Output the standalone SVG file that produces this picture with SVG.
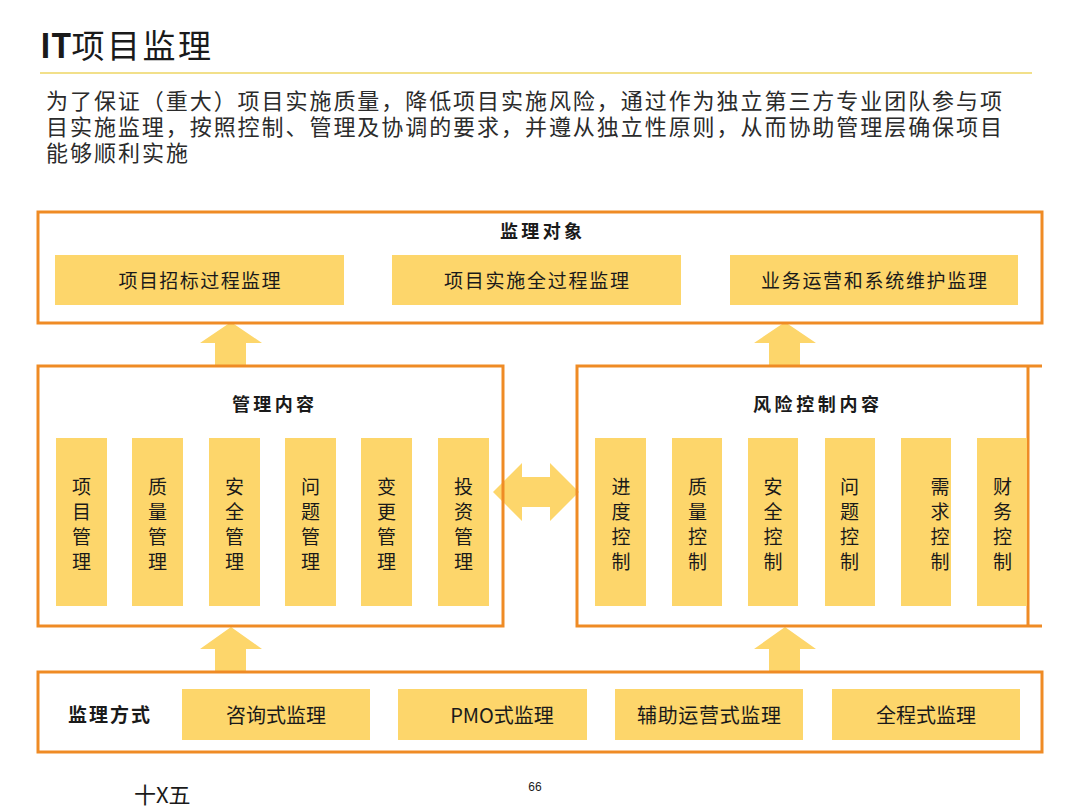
<svg xmlns="http://www.w3.org/2000/svg" width="1080" height="810" viewBox="0 0 1080 810">
<style>
.frame{fill:none;stroke:#EF8B25;stroke-width:3}
.bar{fill:#FDD66B}
.arrow{fill:#FDD66B}
text{font-family:"Noto Sans CJK SC","Noto Sans",sans-serif;fill:#1a1a1a}
.lbl{font-size:19px;text-anchor:middle}
.lbl2{font-size:20px;text-anchor:middle}
.vt{font-size:19px;text-anchor:middle;writing-mode:vertical-rl;letter-spacing:6px}
.head{font-size:18px;font-weight:bold;text-anchor:middle}
.para{font-size:22px;fill:#2b2b2b;letter-spacing:2px}
</style>
<rect width="1080" height="810" fill="#ffffff"/>

<g id="title">
<text x="40" y="58" style="font-size:33px"><tspan style="font-weight:bold">IT</tspan><tspan style="letter-spacing:2.5px">项目监理</tspan></text>
<line x1="40" y1="73" x2="1032" y2="73" stroke="#F2E08A" stroke-width="2"/>
</g>

<g id="intro">
<text class="para"><tspan x="46" y="109" textLength="958" lengthAdjust="spacing">为了保证（重大）项目实施质量，降低项目实施风险，通过作为独立第三方专业团队参与项</tspan><tspan x="46" y="135" textLength="958" lengthAdjust="spacing">目实施监理，按照控制、管理及协调的要求，并遵从独立性原则，从而协助管理层确保项目</tspan><tspan x="46" y="161">能够顺利实施</tspan></text>
</g>

<g id="connectors">
<polygon class="arrow" points="231,322 262,343 246,343 246,366 215,366 215,343 200,343"/>
<polygon class="arrow" points="785,322 816,343 800,343 800,366 769,366 769,343 754,343"/>
<polygon class="arrow" points="231,627 262,649 246,649 246,672 215,672 215,649 200,649"/>
<polygon class="arrow" points="785,627 816,649 800,649 800,672 769,672 769,649 754,649"/>
<polygon class="arrow" points="493,492 522,463 522,477 550,477 550,463 579,492 550,521 550,507 522,507 522,521"/>
</g>

<g id="supervision-objects">
<rect class="frame" x="38" y="212" width="1004" height="111"/>
<text class="head" x="541" y="238" textLength="82" lengthAdjust="spacing">监理对象</text>
<g id="obj-bidding">
<rect class="bar" x="55" y="255" width="289" height="50"/>
<text class="lbl" x="199.5" y="288" textLength="162" lengthAdjust="spacing">项目招标过程监理</text>
</g>
<g id="obj-implementation">
<rect class="bar" x="392" y="255" width="289" height="50"/>
<text class="lbl" x="536.5" y="288" textLength="185" lengthAdjust="spacing">项目实施全过程监理</text>
</g>
<g id="obj-operation">
<rect class="bar" x="730" y="255" width="288" height="50"/>
<text class="lbl" x="874" y="288" textLength="226" lengthAdjust="spacing">业务运营和系统维护监理</text>
</g>
</g>

<g id="management-content">
<rect class="frame" x="38" y="366" width="465" height="260"/>
<text class="head" x="273" y="411" textLength="82" lengthAdjust="spacing">管理内容</text>
<g id="m1"><rect class="bar" x="56" y="438" width="51" height="168"/><text class="vt" x="81.5" y="527">项目管理</text></g>
<g id="m2"><rect class="bar" x="132" y="438" width="51" height="168"/><text class="vt" x="157.5" y="527">质量管理</text></g>
<g id="m3"><rect class="bar" x="209" y="438" width="51" height="168"/><text class="vt" x="234.5" y="527">安全管理</text></g>
<g id="m4"><rect class="bar" x="285" y="438" width="51" height="168"/><text class="vt" x="310.5" y="527">问题管理</text></g>
<g id="m5"><rect class="bar" x="361" y="438" width="51" height="168"/><text class="vt" x="386.5" y="527">变更管理</text></g>
<g id="m6"><rect class="bar" x="438" y="438" width="51" height="168"/><text class="vt" x="463.5" y="527">投资管理</text></g>
</g>

<g id="risk-control">
<path class="frame" d="M1042,366 H577 V626 H1042 M1028,366 V626"/>
<text class="head" x="816" y="411" textLength="126" lengthAdjust="spacing">风险控制内容</text>
<g id="r1"><rect class="bar" x="595" y="438" width="51" height="168"/><text class="vt" x="621" y="527">进度控制</text></g>
<g id="r2"><rect class="bar" x="672" y="438" width="50" height="168"/><text class="vt" x="697.5" y="527">质量控制</text></g>
<g id="r3"><rect class="bar" x="748" y="438" width="50" height="168"/><text class="vt" x="773" y="527">安全控制</text></g>
<g id="r4"><rect class="bar" x="825" y="438" width="50" height="168"/><text class="vt" x="849.5" y="527">问题控制</text></g>
<g id="r5"><rect class="bar" x="901" y="438" width="50" height="168"/><text class="vt" x="940" y="527">需求控制</text></g>
<g id="r6"><rect class="bar" x="977" y="438" width="50" height="168"/><text class="vt" x="1002.5" y="527">财务控制</text></g>
</g>

<g id="supervision-methods">
<rect class="frame" x="38" y="672" width="1004" height="80"/>
<text x="68" y="722" style="font-size:19px;font-weight:bold" textLength="82" lengthAdjust="spacing">监理方式</text>
<g id="w1"><rect class="bar" x="182" y="689" width="188" height="51"/>
<text class="lbl2" x="276" y="723">咨询式监理</text></g>
<g id="w2"><rect class="bar" x="398" y="689" width="189" height="51"/>
<text class="lbl2" x="502" y="723">PMO式监理</text></g>
<g id="w3"><rect class="bar" x="615" y="689" width="188" height="51"/>
<text class="lbl2" x="709" y="723" textLength="144" lengthAdjust="spacing">辅助运营式监理</text></g>
<g id="w4"><rect class="bar" x="832" y="689" width="188" height="51"/>
<text class="lbl2" x="926" y="723">全程式监理</text></g>
</g>

<g id="footer">
<text x="535" y="791" style="font-size:12px;text-anchor:middle;font-family:'Liberation Sans Narrow','Liberation Sans',sans-serif">66</text>
<text x="134" y="803" style="font-size:22px">十X五</text>
</g>
</svg>
